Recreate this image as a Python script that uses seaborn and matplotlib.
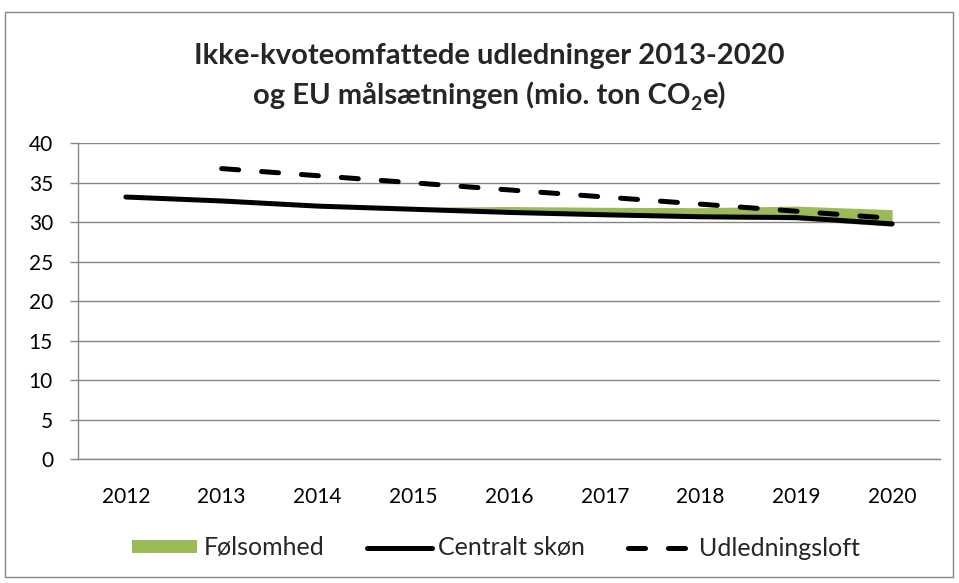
import numpy as np
import pandas as pd
import matplotlib
matplotlib.use("Agg")
import matplotlib.pyplot as plt
import matplotlib.patches as mpatches
from matplotlib.lines import Line2D
from matplotlib.ticker import MultipleLocator, FixedLocator
import seaborn as sns

# ---- data ----
years = [2012, 2013, 2014, 2015, 2016, 2017, 2018, 2019, 2020]
central = [33.2, 32.7, 32.05, 31.65, 31.25, 30.95, 30.7, 30.6, 29.8]
loft_years = [2013, 2014, 2015, 2016, 2017, 2018, 2019, 2020]
loft = [36.8, 35.9, 35.0, 34.1, 33.2, 32.3, 31.4, 30.5]
band_years = [2014, 2015, 2016, 2017, 2018, 2019, 2020]
band_low = [32.05, 31.5, 31.1, 30.8, 30.5, 30.3, 29.5]
band_high = [32.05, 31.9, 32.0, 31.9, 31.85, 32.05, 31.6]

title_line1 = "Ikke-kvoteomfattede udledninger 2013-2020"
title_line2_parts = ["og EU målsætningen (mio. ton CO", "2", "e)"]
labels = ["Følsomhed", "Centralt skøn", "Udledningsloft"]

sns.set_theme(style="white")
plt.rcParams["font.family"] = ["Lato", "DejaVu Sans"]

W, H = 959, 583
fig = plt.figure(figsize=(W / 100, H / 100), dpi=100)
fig.patch.set_facecolor("white")

left, right, top, bottom = 78, 940, 143.3, 459.3
ax = fig.add_axes([left / W, 1 - bottom / H, (right - left) / W, (bottom - top) / H])

green = "#9BBB59"
gray = "#868686"

df_c = pd.DataFrame({"year": years, "value": central})
df_l = pd.DataFrame({"year": loft_years, "value": loft})

ax.fill_between(band_years, band_low, band_high, color=green, lw=0, zorder=2)
sns.lineplot(data=df_c, x="year", y="value", ax=ax, color="black", lw=3.6,
             solid_capstyle="round", zorder=3)
sns.lineplot(data=df_l, x="year", y="value", ax=ax, color="black", lw=3.6,
             linestyle=(0, (3.4, 4.6)), dash_capstyle="round", zorder=4)

ax.set_xlim(2011.5, 2020.5)
ax.set_ylim(0, 40)
ax.yaxis.set_major_locator(MultipleLocator(5))
ax.set_xticks(years)
ax.set_xticklabels([str(y) for y in years])
ax.xaxis.set_minor_locator(FixedLocator(np.arange(2011.5, 2021, 1.0)))
ax.tick_params(axis="x", which="major", length=0, pad=20, labelsize=15, labelcolor="black")
ax.tick_params(axis="x", which="minor", length=6, width=1, color=gray, direction="out")
ax.tick_params(axis="y", which="major", length=6, width=1, color=gray, direction="out",
               pad=12, labelsize=15, labelcolor="black", left=True)
ax.set_xlabel("")
ax.set_ylabel("")
ax.grid(axis="y", color=gray, lw=1)
ax.grid(axis="x", visible=False)
ax.set_axisbelow(True)
for s in ["top", "right"]:
    ax.spines[s].set_visible(False)
for s in ["left", "bottom"]:
    ax.spines[s].set_color(gray)
    ax.spines[s].set_linewidth(1)
if ax.get_legend():
    ax.get_legend().remove()

# ---- title ----
cx = 489
tfs = 21
fig.text(cx / W, 1 - 64 / H, title_line1, ha="center", va="baseline",
         fontsize=tfs, fontweight="bold")
renderer = fig.canvas.get_renderer()
sizes = [tfs, 14, tfs]
offsets = [0, -6, 0]
tmp = []
for txt, fs in zip(title_line2_parts, sizes):
    t = fig.text(0, 0, txt, fontsize=fs, fontweight="bold")
    tmp.append(t.get_window_extent(renderer).width)
    t.remove()
total = sum(tmp)
x0 = cx - total / 2
base2 = 104
for txt, fs, off, w in zip(title_line2_parts, sizes, offsets, tmp):
    fig.text(x0 / W, 1 - (base2 - off) / H, txt, ha="left", va="baseline",
             fontsize=fs, fontweight="bold")
    x0 += w

# ---- legend ----
handles = [
    mpatches.Patch(color=green, lw=0),
    Line2D([], [], color="black", lw=3.6, solid_capstyle="round"),
    Line2D([], [], color="black", lw=3.6, linestyle=(0, (3.4, 4.6)), dash_capstyle="round"),
]
fig.legend(handles, labels, loc="center", bbox_to_anchor=(496 / W, 1 - 548 / H), ncol=3,
           frameon=False, fontsize=18, handlelength=2.6, handleheight=0.4,
           columnspacing=1.7, handletextpad=0.25)

fig.add_artist(mpatches.Rectangle((5 / W, 1 - 577 / H), 948 / W, 565 / H,
                                  transform=fig.transFigure, fill=False,
                                  edgecolor=gray, lw=1))

fig.savefig("out.png", dpi=100)
